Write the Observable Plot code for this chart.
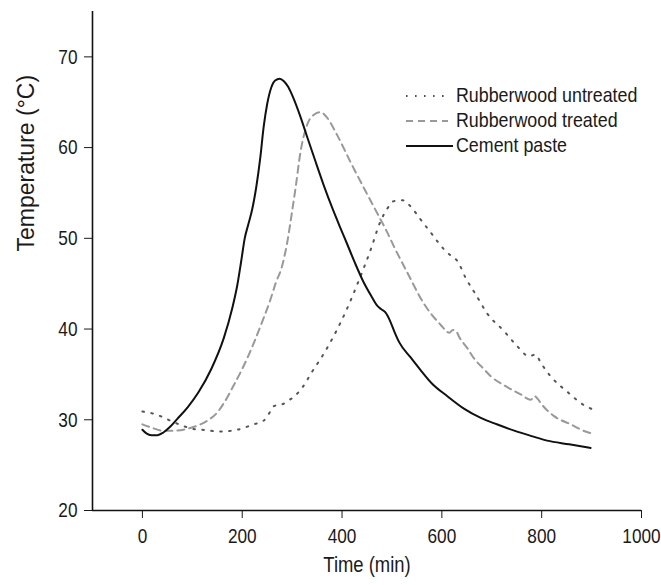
<!DOCTYPE html>
<html>
<head>
<meta charset="utf-8">
<script src="https://cdn.jsdelivr.net/npm/d3@7"></script>
<script src="https://cdn.jsdelivr.net/npm/@observablehq/plot@0.6"></script>
<style>
  html, body { margin: 0; padding: 0; background: #fff; }
  #chart { width: 661px; height: 585px; }
</style>
</head>
<body>
<div id="chart"></div>
<script>
// ---- data ----
const seriesNames = ["Rubberwood untreated", "Rubberwood treated", "Cement paste"];
const xTicks = [0, 200, 400, 600, 800, 1000];
const yTicks = [20, 30, 40, 50, 60, 70];

const untreatedTime = [0, 20, 36, 60, 83, 100, 120, 156, 190, 223, 243, 255, 263, 280, 295, 307, 321, 340, 358, 383, 408, 434, 459, 475, 491, 504, 521, 534, 557, 581, 604, 620, 631, 648, 668, 691, 724, 748, 775, 788, 798, 821, 851, 885, 900];
const untreatedTemp = [30.9, 30.7, 30.4, 29.8, 29.3, 29.0, 28.9, 28.7, 28.9, 29.5, 29.9, 30.8, 31.5, 31.7, 32.2, 32.7, 33.6, 35.3, 36.8, 39.2, 42.0, 45.4, 49.0, 51.6, 53.3, 54.1, 54.2, 53.7, 52.1, 50.4, 48.8, 48.0, 47.5, 45.6, 43.8, 41.7, 39.8, 38.3, 37.0, 37.2, 36.3, 34.6, 33.1, 31.6, 31.2];

const treatedTime = [0, 20, 40, 63, 96, 130, 150, 165, 183, 200, 222, 240, 255, 268, 278, 290, 300, 307, 317, 330, 343, 357, 370, 390, 417, 450, 474, 491, 504, 531, 564, 597, 615, 622, 628, 636, 651, 664, 684, 698, 731, 758, 778, 786, 792, 800, 825, 858, 888, 900];
const treatedTemp = [29.5, 29.1, 28.8, 28.8, 29.1, 29.9, 30.8, 32.0, 33.8, 35.6, 38.3, 40.8, 43.0, 45.2, 46.6, 49.5, 53.0, 55.6, 59.6, 62.5, 63.6, 63.9, 63.3, 61.4, 58.4, 54.9, 52.4, 50.6, 49.1, 46.2, 42.8, 40.5, 39.6, 39.9, 39.8, 39.0, 37.9, 36.8, 35.6, 34.8, 33.6, 32.8, 32.2, 32.6, 32.3, 31.7, 30.4, 29.5, 28.7, 28.5];

const cementTime = [0, 8, 18, 30, 42, 55, 70, 91, 112, 138, 163, 180, 190, 198, 205, 212, 220, 228, 236, 243, 250, 258, 266, 275, 283, 292, 303, 316, 330, 346, 363, 380, 397, 410, 425, 442, 459, 470, 478, 486, 491, 497, 505, 515, 537, 557, 580, 611, 645, 678, 710, 745, 780, 811, 855, 898];
const cementTemp = [28.9, 28.5, 28.3, 28.3, 28.6, 29.2, 30.1, 31.4, 33.0, 35.6, 39.0, 42.3, 44.8, 47.5, 50.0, 51.5, 53.2, 55.6, 58.8, 62.3, 64.8, 66.6, 67.4, 67.6, 67.35, 66.7, 65.4, 63.5, 61.2, 58.6, 55.9, 53.4, 51.1, 49.4, 47.4, 45.3, 43.6, 42.6, 42.2, 41.9, 41.5, 40.8, 39.7, 38.5, 36.9, 35.5, 34.0, 32.6, 31.2, 30.2, 29.5, 28.8, 28.2, 27.7, 27.3, 26.9];

const xTitle = "Time (min)";
const yTitle = "Temperature (°C)";

// ---- build tables ----
const toRows = (ts, vs) => ts.map((t, i) => ({t, v: vs[i]}));
const untreated = toRows(untreatedTime, untreatedTemp);
const treated = toRows(treatedTime, treatedTemp);
const cement = toRows(cementTime, cementTemp);

const FONT = "'Liberation Sans', Arial, Helvetica, sans-serif";
const styles = [
  {stroke: "#555", strokeWidth: 2, strokeDasharray: "1.6 7.4"},
  {stroke: "#999", strokeWidth: 2, strokeDasharray: "7 5"},
  {stroke: "#111", strokeWidth: 2, strokeDasharray: null}
];

const chart = Plot.plot({
  width: 661,
  height: 585,
  marginLeft: 92,
  marginRight: 20,
  marginTop: 11,
  marginBottom: 75,
  style: {fontFamily: FONT, fontSize: "21px", color: "#1a1a1a", background: "#fff"},
  x: {domain: [-100, 1000], ticks: xTicks, tickSize: 8, tickPadding: 10, label: null, tickFormat: d => String(d)},
  y: {domain: [20, 75], ticks: yTicks, tickSize: 8, tickPadding: 7, label: null, tickFormat: d => String(d)},
  marks: [
    Plot.ruleX([-100], {stroke: "#111", strokeWidth: 1.6}),
    Plot.ruleY([20], {stroke: "#111", strokeWidth: 1.6}),
    Plot.line(untreated, {x: "t", y: "v", curve: "monotone-x", ...styles[0]}),
    Plot.line(treated, {x: "t", y: "v", curve: "monotone-x", ...styles[1]}),
    Plot.line(cement, {x: "t", y: "v", curve: "monotone-x", ...styles[2]}),
    Plot.text([xTitle], {text: d => d, frameAnchor: "bottom", dy: 61.5, fontSize: 22.5, fill: "#1a1a1a"}),
    Plot.text([yTitle], {text: d => d, frameAnchor: "left", dx: -65.7, dy: -9.5, rotate: -90, fontSize: 23, fill: "#1a1a1a"})
  ]
});

document.getElementById("chart").appendChild(chart);

// ---- legend (inside the plot area, top right) ----
const svg = d3.select(chart);
const lg = svg.append("g")
  .attr("font-family", FONT).attr("font-size", 21)
  .attr("fill", "#1a1a1a").attr("text-anchor", "start");
const legX0 = 406, legX1 = 448, legTextX = 456, legY0 = 96, legDY = 25;
const legendTexts = [];
seriesNames.forEach((name, i) => {
  const y = legY0 + i * legDY;
  const s = styles[i];
  lg.append("line")
    .attr("x1", legX0).attr("x2", i === 2 ? legX1 + 5 : legX1)
    .attr("y1", y).attr("y2", y)
    .attr("stroke", s.stroke).attr("stroke-width", s.strokeWidth)
    .attr("stroke-dasharray", s.strokeDasharray);
  legendTexts.push(lg.append("text").attr("x", legTextX).attr("y", y + 6).attr("text-anchor", "start").text(name).node());
});

// the reference's horizontal text is horizontally condensed:
// wrap each horizontal text in a group scaled about the text's anchor point
function condense(t, s) {
  const r = t.getBoundingClientRect();
  const anchor = getComputedStyle(t).textAnchor;
  const cxScreen = anchor === "end" ? r.right : anchor === "middle" ? (r.left + r.right) / 2 : r.left;
  const m = t.parentNode.getScreenCTM();
  const cx = (cxScreen - m.e) / m.a;
  const g = document.createElementNS("http://www.w3.org/2000/svg", "g");
  g.setAttribute("transform", `translate(${cx},0) scale(${s},1) translate(${-cx},0)`);
  t.parentNode.insertBefore(g, t);
  g.appendChild(t);
}
Array.from(chart.querySelectorAll("text")).forEach(t => {
  const tr = t.getAttribute("transform") || "";
  if (tr.includes("rotate")) return;
  condense(t, legendTexts.includes(t) ? 0.85 : 0.82);
});
</script>
</body>
</html>
